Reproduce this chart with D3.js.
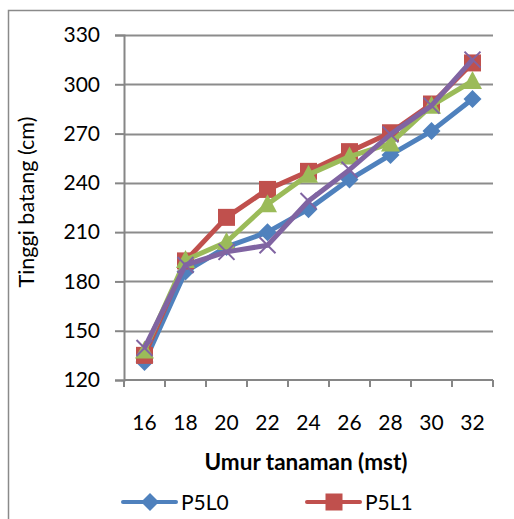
<!DOCTYPE html>
<html>
<head>
<meta charset="utf-8">
<script src="https://cdn.jsdelivr.net/npm/d3@7"></script>
<style>
  body { margin: 0; background: #fff; }
  text { font-family: Lato, "Liberation Sans", sans-serif; fill: #000; }
</style>
</head>
<body>
<script>
// umur tanaman (mst)
const weeks = ["16", "18", "20", "22", "24", "26", "28", "30", "32"];
const seriesNames = ["P5L0", "P5L1", "P5L2", "P5L3"];
const p5l0 = [131, 186, 201, 210, 224, 242, 257, 271.5, 291];
const p5l1 = [135, 192.5, 219, 236, 247, 259, 270.5, 288, 313];
const p5l2 = [138, 193, 204, 227, 245, 256, 264, 287, 302];
const p5l3 = [139.5, 190, 198, 202, 229, 248, 269.5, 287, 315];
const yTicks = [120, 150, 180, 210, 240, 270, 300, 330];

const colors = ["#4f81bd", "#c0504d", "#9bbb59", "#8064a2"];
const shapes = ["diamond", "square", "triangle", "cross"];
const values = [p5l0, p5l1, p5l2, p5l3];

const width = 514, height = 519;
const font = "Lato, 'Liberation Sans', sans-serif";

const svg = d3.select("body").append("svg")
    .attr("width", width)
    .attr("height", height);

svg.append("rect")
    .attr("width", width).attr("height", height)
    .attr("fill", "#fff");

// frame of the figure (only left/top visible)
svg.append("rect")
    .attr("x", 8.5).attr("y", 10.5)
    .attr("width", 600).attr("height", 600)
    .attr("fill", "none")
    .attr("stroke", "#8a8a8a")
    .attr("stroke-width", 1.5);

const x = d3.scaleBand().domain(weeks).range([124, 493]);
const y = d3.scaleLinear().domain([120, 330]).range([380, 35]);

// gridlines
svg.append("g")
    .selectAll("line")
    .data(yTicks.slice(1))
    .join("line")
    .attr("x1", 124).attr("x2", 493)
    .attr("y1", d => Math.round(y(d)) + 0.5)
    .attr("y2", d => Math.round(y(d)) + 0.5)
    .attr("stroke", "#8c8c8c")
    .attr("stroke-width", 2);

// y axis
const yAxis = svg.append("g")
    .attr("transform", "translate(124,0)")
    .call(d3.axisLeft(y).tickValues(yTicks).tickSize(9).tickPadding(15));
yAxis.selectAll("line, path").attr("stroke", "#868686").attr("stroke-width", 2);
yAxis.selectAll("text").attr("font-size", 21).style("font-family", font);

// x axis, ticks between categories
const xAxis = svg.append("g")
    .attr("transform", "translate(0,380)");
xAxis.append("line")
    .attr("x1", 124).attr("x2", 493)
    .attr("stroke", "#868686").attr("stroke-width", 2);
xAxis.selectAll(".tk")
    .data(weeks.map(w => x(w)).concat([x(weeks[weeks.length - 1]) + x.bandwidth()]))
    .join("line")
    .attr("class", "tk")
    .attr("x1", d => d).attr("x2", d => d)
    .attr("y1", 0).attr("y2", 7)
    .attr("stroke", "#868686").attr("stroke-width", 2);
xAxis.selectAll("text")
    .data(weeks)
    .join("text")
    .attr("x", d => x(d) + x.bandwidth() / 2)
    .attr("y", 50)
    .attr("text-anchor", "middle")
    .attr("font-size", 21)
    .text(d => d);

// axis titles
svg.append("text")
    .attr("x", 306).attr("y", 470)
    .attr("text-anchor", "middle")
    .attr("font-size", 22.5)
    .attr("font-weight", "bold")
    .text("Umur tanaman (mst)");

svg.append("text")
    .attr("transform", "translate(34,202) rotate(-90)")
    .attr("text-anchor", "middle")
    .attr("font-size", 21.5)
    .text("Tinggi batang (cm)");

function marker(g, shape, color, cx, cy) {
    if (shape === "diamond") {
        g.append("path")
            .attr("d", `M${cx},${cy - 9}L${cx + 9},${cy}L${cx},${cy + 9}L${cx - 9},${cy}Z`)
            .attr("fill", color);
    } else if (shape === "square") {
        g.append("rect")
            .attr("x", cx - 8.5).attr("y", cy - 8.5)
            .attr("width", 17).attr("height", 17)
            .attr("fill", color);
    } else if (shape === "triangle") {
        g.append("path")
            .attr("d", `M${cx},${cy - 10}L${cx + 9.5},${cy + 8}L${cx - 9.5},${cy + 8}Z`)
            .attr("fill", color);
    } else {
        g.append("path")
            .attr("d", `M${cx - 8},${cy - 8}L${cx + 8},${cy + 8}M${cx + 8},${cy - 8}L${cx - 8},${cy + 8}`)
            .attr("stroke", color)
            .attr("stroke-width", 2);
    }
}

const line = d3.line()
    .x((d, i) => x(weeks[i]) + x.bandwidth() / 2)
    .y(d => y(d));

values.forEach((vals, s) => {
    const g = svg.append("g");
    g.append("path")
        .attr("d", line(vals))
        .attr("fill", "none")
        .attr("stroke", colors[s])
        .attr("stroke-width", 5)
        .attr("stroke-linejoin", "round");
    vals.forEach((v, i) => {
        marker(g, shapes[s], colors[s], x(weeks[i]) + x.bandwidth() / 2, y(v));
    });
});

// legend (only first row visible in the crop)
const legendX = [123, 307];
[0, 1].forEach(s => {
    const g = svg.append("g");
    g.append("line")
        .attr("x1", legendX[s]).attr("x2", legendX[s] + 53)
        .attr("y1", 502).attr("y2", 502)
        .attr("stroke", colors[s])
        .attr("stroke-width", 4)
        .attr("stroke-linecap", "round");
    marker(g, shapes[s], colors[s], legendX[s] + 27, 502);
    g.append("text")
        .attr("x", legendX[s] + 58)
        .attr("y", 510)
        .attr("font-size", 21)
        .text(seriesNames[s]);
});
</script>
</body>
</html>
